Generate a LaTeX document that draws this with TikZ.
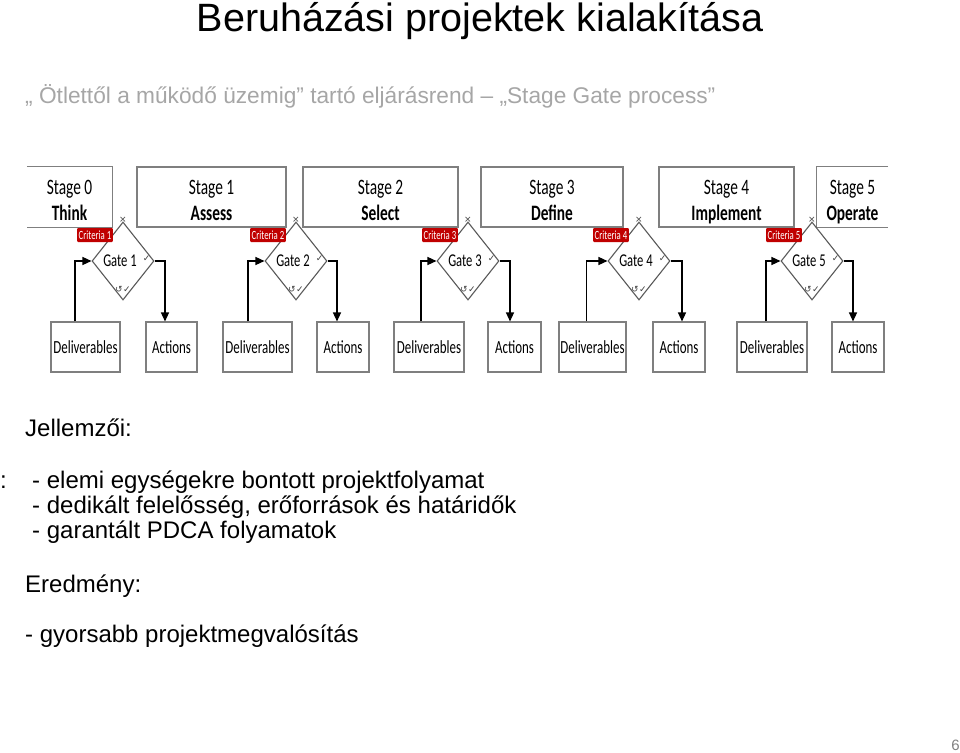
\documentclass[tikz,border=0pt]{standalone}
\usepackage{fontspec}
\setmainfont{Liberation Sans}
\newfontfamily\diag[FakeStretch=0.7]{Carlito}
\newfontfamily\sym{DejaVu Sans}
\usetikzlibrary{arrows.meta,shapes.geometric,calc}
\definecolor{boxgray}{HTML}{7F7F7F}
\definecolor{gategray}{HTML}{595959}
\definecolor{subgray}{HTML}{A6A6A6}
\definecolor{critred}{HTML}{C00000}
\tikzset{
  stagebox/.style={minimum width=#1, minimum height=60pt, inner sep=0pt},
  stagetxt/.style={anchor=base, inner sep=0pt, font={\diag\fontsize{22}{27}\selectfont}},
  gatebox/.style={diamond, draw=gategray, line width=1.1pt, minimum width=62pt, minimum height=78pt, inner sep=0pt},
  gatetxt/.style={font={\diag\fontsize{18}{20}\selectfont}, inner sep=0pt},
  crit/.style={fill=critred, text=white, font={\diag\fontsize{12.5}{13}\selectfont}, inner sep=1.5pt, minimum height=14pt, rounded corners=1pt, anchor=east},
  outbox/.style={draw=boxgray, line width=1.1pt, minimum width=#1, minimum height=50pt, inner sep=0pt, text height=13pt, text depth=1pt, font={\diag\fontsize{18.5}{21}\selectfont}},
  flow/.style={line width=1.3pt, -{Triangle[length=9pt,width=8pt]}},
  gmark/.style={font={\sym\fontsize{9}{9}\selectfont}, text=black!75, inner sep=0pt},
  body/.style={anchor=base west, inner sep=0pt, font={\fontsize{24}{26}\selectfont}},
}
\begin{document}
\begin{tikzpicture}[x=1pt,y=-1pt]
\useasboundingbox (0,0) rectangle (960,752);
% title
\node[anchor=base, inner sep=0pt, font={\fontsize{39.5}{42}\selectfont}] (title) at (480,32) {Beruházási projektek kialakítása};
\node[anchor=base west, inner sep=0pt, text=subgray, font={\fontsize{22.7}{24}\selectfont}] (sub) at (25,103) {„ Ötlettől a működő üzemig” tartó eljárásrend – „Stage Gate process”};
% stage boxes
\node[stagebox=85pt] (s0) at (69.5,197) {};
\draw[boxgray, line width=1.1pt] (s0.north west) -- (s0.north east) -- (s0.south east) -- (s0.south west);
\node[stagebox=149pt, draw=boxgray, line width=1.1pt] (s1) at (211.5,197) {};
\node[stagebox=155pt, draw=boxgray, line width=1.1pt] (s2) at (380.5,197) {};
\node[stagebox=142pt, draw=boxgray, line width=1.1pt] (s3) at (552,197) {};
\node[stagebox=135pt, draw=boxgray, line width=1.1pt] (s4) at (726.5,197) {};
\node[stagebox=71pt] (s5) at (852.5,197) {};
\draw[boxgray, line width=1.1pt] (s5.north east) -- (s5.north west) -- (s5.south west) -- (s5.south east);
\foreach \s/\n/\w in {0/0/Think,1/1/Assess,2/2/Select,3/3/Define,4/4/Implement,5/5/Operate}{
  \node[stagetxt] (s\s a) at (s\s.center |- 0,194) {Stage \n};
  \node[stagetxt] (s\s b) at (s\s.center |- 0,220) {\textbf{\w}};
}
% gates
\foreach \i/\gx in {1/123,2/296,3/468,4/639,5/812}{
  \node[gatebox] (g\i) at (\gx,261) {};
  \node[gatetxt] (gt\i) at ($(g\i.center)+(-3,0)$) {Gate \i};
  \node[crit] (c\i) at ($(g\i.center)+(-10,-26)$) {Criteria \i};
  \node[gmark] (gx\i) at ($(g\i.north)+(0,-2)$) {×};
  \node[gmark] (gc\i) at ($(g\i.east)+(-8,-2)$) {✓};
  \node[gmark] (gr\i) at ($(g\i.south)+(-4,-11)$) {↺};
  \node[gmark] (gk\i) at ($(g\i.south)+(4,-11)$) {✓};
}
% deliverables and actions
\node[outbox=69pt] (d1) at (85.5,347) {Deliverables};
\node[outbox=51pt] (a1) at (171.5,347) {Actions};
\node[outbox=69pt] (d2) at (257.5,347) {Deliverables};
\node[outbox=52pt] (a2) at (343,347) {Actions};
\node[outbox=70pt] (d3) at (429,347) {Deliverables};
\node[outbox=53pt] (a3) at (514.5,347) {Actions};
\node[outbox=67pt] (d4) at (592.5,347) {Deliverables};
\node[outbox=52pt] (a4) at (679,347) {Actions};
\node[outbox=70pt] (d5) at (772,347) {Deliverables};
\node[outbox=52pt] (a5) at (858,347) {Actions};
% connectors
\draw[flow] ([xshift=-10.5pt]d1.north) |- (g1.west);
\draw[flow] (g1.east) -| ([xshift=-6.5pt]a1.north);
\draw[flow] ([xshift=-9.5pt]d2.north) |- (g2.west);
\draw[flow] (g2.east) -| ([xshift=-6pt]a2.north);
\draw[flow] ([xshift=-8pt]d3.north) |- (g3.west);
\draw[flow] (g3.east) -| ([xshift=-4.5pt]a3.north);
\draw[flow] ([xshift=-6pt]d4.north) |- (g4.west);
\draw[flow] (g4.east) -| ([xshift=3pt]a4.north);
\draw[flow] ([xshift=-6pt]d5.north) |- (g5.west);
\draw[flow] (g5.east) -| ([xshift=-5pt]a5.north);
% body text
\node[body] (jel) at (25,436) {Jellemzői:};
\node[body] (colon) at (0,488) {:};
\node[body] (l1) at (32,488) {- elemi egységekre bontott projektfolyamat};
\node[body] (l2) at (32,513) {- dedikált felelősség, erőforrások és határidők};
\node[body] (l3) at (32,538) {- garantált PDCA folyamatok};
\node[body] (ered) at (25,592) {Eredmény:};
\node[body] (l4) at (25,642) {- gyorsabb projektmegvalósítás};
\node[anchor=base east, inner sep=0pt, text=gray, font={\fontsize{15}{16}\selectfont}] (page) at (960,750) {6};
\end{tikzpicture}
\end{document}
